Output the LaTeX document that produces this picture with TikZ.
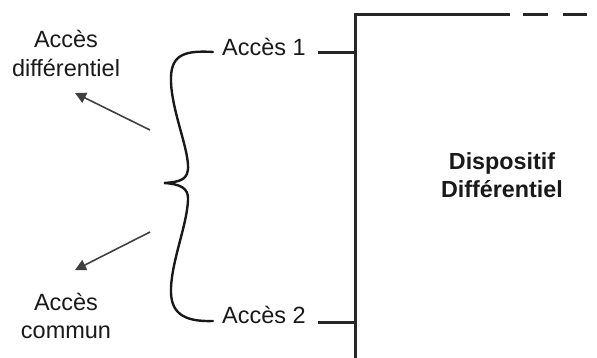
\documentclass[tikz,border=0pt]{standalone}
\usepackage{fontspec}
\setmainfont{Liberation Sans}
\usetikzlibrary{arrows.meta}
\begin{document}
\begin{tikzpicture}[x=1pt,y=-1pt,
  lbl/.style={anchor=base,inner sep=0pt,text=black!90,font=\fontsize{23.5}{28}\selectfont},
  dev/.style={align=center,inner sep=0pt,text=black!90,font=\fontsize{23.3}{28}\selectfont\bfseries},
  wire/.style={line width=3pt,draw=black!85},
  brace/.style={line width=2.4pt,draw=black!90,line cap=round},
  pointer/.style={line width=1.6pt,draw=black!75,-{Triangle[length=11pt,width=11pt]}}]
\useasboundingbox (0,0) rectangle (597,358);
% device box lines
\coordinate (top) at (355,15);
\coordinate (bot) at (355,358);
\coordinate (topend) at (510,15);
\coordinate (d1a) at (523,15);
\coordinate (d1b) at (548,15);
\coordinate (d2a) at (563,15);
\coordinate (d2b) at (587,15);
\draw[wire] (bot) -- (top) -- (topend);
\draw[wire] (d1a) -- (d1b);
\draw[wire] (d2a) -- (d2b);
\node[dev] (dev) at (502,175) {Dispositif\\Différentiel};
% ports
\node[lbl] (a1) at (264,56) {Accès 1};
\node[lbl] (a2) at (264,323) {Accès 2};
\coordinate (p1) at (355,53);
\coordinate (p2) at (355,322);
\coordinate (l1) at (318,53);
\coordinate (l2) at (318,322);
\draw[wire] (l1) -- (p1);
\draw[wire] (l2) -- (p2);
% brace
\coordinate (b1) at (213,52);
\coordinate (b2) at (213,321);
\coordinate (tip) at (164,183);
\draw[brace] (b1) .. controls (182,50) and (170,56) .. (171,82)
  .. controls (172,110) and (187,145) .. (188,165)
  .. controls (189,180) and (180,182) .. (tip)
  .. controls (180,184) and (189,188) .. (188,200)
  .. controls (187,225) and (172,260) .. (171,288)
  .. controls (170,312) and (182,322) .. (b2);
% side labels
\node[lbl] (ad1) at (66,48) {Accès};
\node[lbl] (ad2) at (66,77) {différentiel};
\node[lbl] (ac1) at (66,310) {Accès};
\node[lbl] (ac2) at (66,338) {commun};
\coordinate (s1) at (150,130);
\coordinate (t1) at (75,93);
\coordinate (s2) at (150,232);
\coordinate (t2) at (75,270);
\draw[pointer] (s1) -- (t1);
\draw[pointer] (s2) -- (t2);
\end{tikzpicture}
\end{document}
